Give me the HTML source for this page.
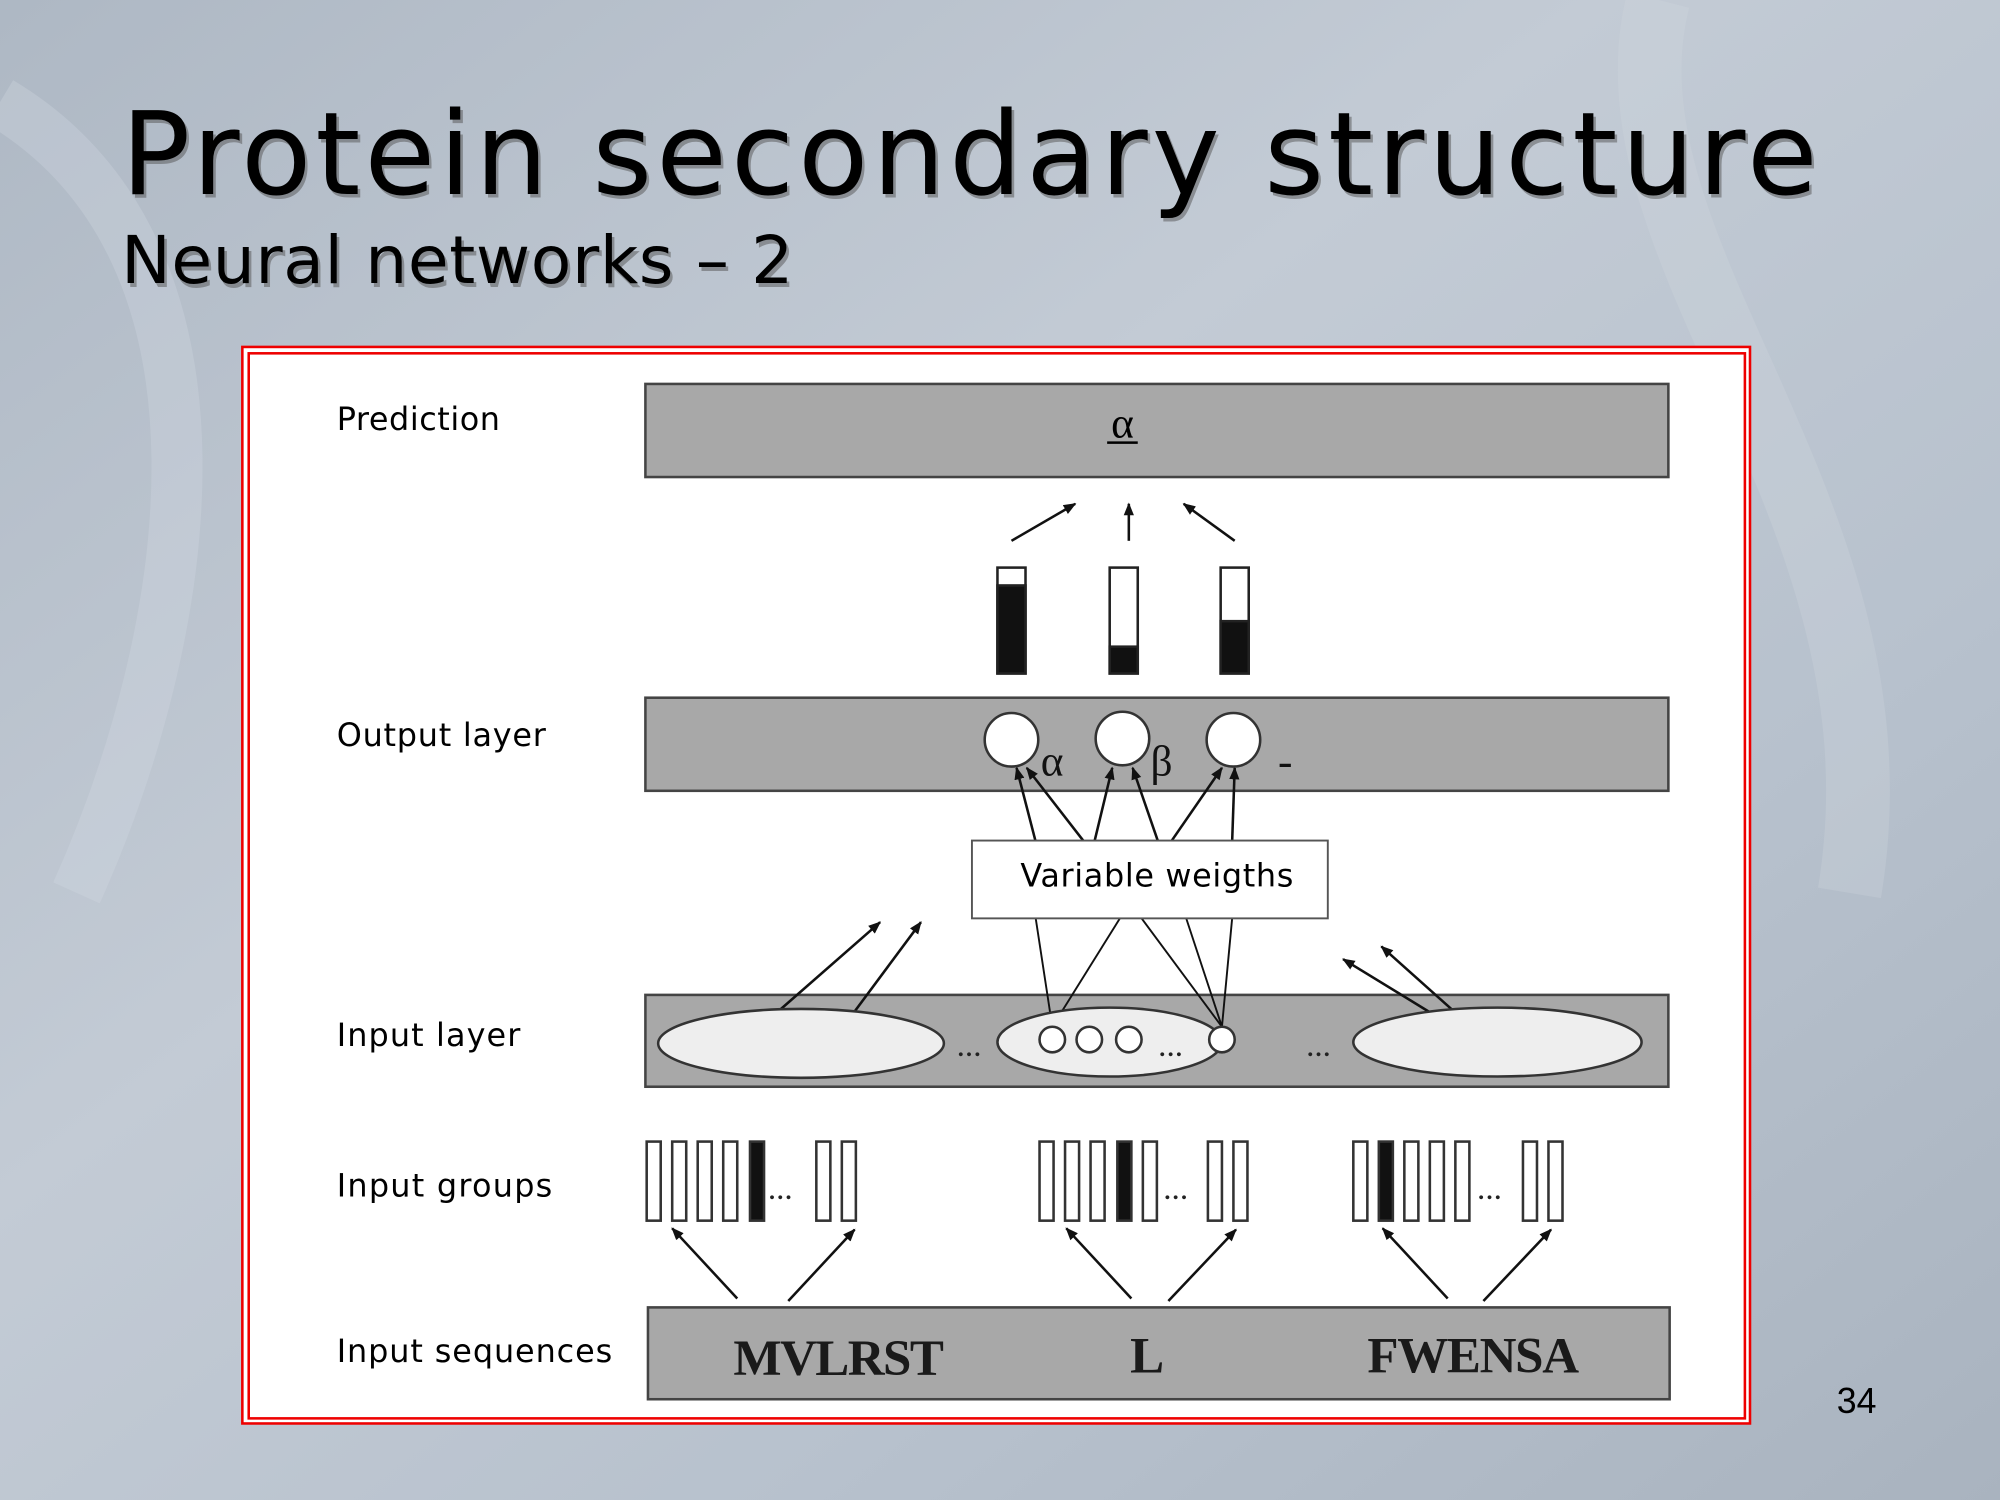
<!DOCTYPE html>
<html><head><meta charset="utf-8"><style>
html,body{margin:0;padding:0;width:2000px;height:1500px;overflow:hidden;}
svg{display:block}
</style></head><body>
<svg width="2000" height="1500" viewBox="0 0 1568 1176" preserveAspectRatio="none" xmlns="http://www.w3.org/2000/svg">
<defs>
<linearGradient id="bg" x1="0" y1="0" x2="1" y2="1">
<stop offset="0" stop-color="#aeb8c4"/><stop offset="0.4" stop-color="#c3cbd5"/><stop offset="0.7" stop-color="#b7c1cd"/><stop offset="1" stop-color="#a9b3bf"/>
</linearGradient>
<marker id="ah" markerWidth="10" markerHeight="10" refX="9" refY="5" orient="auto" markerUnits="userSpaceOnUse"><path d="M0,1 L10,5 L0,9 z" fill="#111"/></marker>
</defs>
<rect width="1568" height="1176" fill="url(#bg)"/>
<path d="M0,80 C200,200 150,500 60,700" stroke="#d5dbe3" stroke-width="40" fill="none" opacity="0.3"/>
<path d="M1300,0 C1250,200 1500,400 1450,700" stroke="#d0d7df" stroke-width="50" fill="none" opacity="0.3"/>
<g font-family="'DejaVu Sans','Liberation Sans',sans-serif">
<text x="97" y="155" font-size="90" fill="#555" opacity="0.5" textLength="1330">Protein secondary structure</text>
<text x="95" y="152" font-size="90" fill="#000" textLength="1330">Protein secondary structure</text>
<text x="97" y="225" font-size="52" fill="#555" opacity="0.5" textLength="527">Neural networks – 2</text>
<text x="95" y="222" font-size="52" fill="#000" textLength="527">Neural networks – 2</text>
<text x="1440" y="1108" font-size="28" font-family="'Liberation Sans',sans-serif" fill="#000">34</text>
</g>
<rect x="190" y="272" width="1182" height="844" fill="#fff" stroke="#e00" stroke-width="2"/>
<rect x="195" y="277" width="1173" height="835" fill="#fff" stroke="#e00" stroke-width="2"/>
<g fill="#a8a8a8" stroke="#444" stroke-width="2">
<rect x="506" y="301" width="802" height="73"/>
<rect x="506" y="547" width="802" height="73"/>
<rect x="506" y="780" width="802" height="72"/>
<rect x="508" y="1025" width="801" height="72"/>
</g>
<text x="880" y="343" font-size="34" font-family="'Liberation Serif',serif" text-anchor="middle">α</text>
<line x1="868" y1="347" x2="892" y2="347" stroke="#000" stroke-width="2"/>
<g stroke="#111" stroke-width="2" fill="none" marker-end="url(#ah)">
<line x1="793" y1="424" x2="843" y2="395"/><line x1="885" y1="424" x2="885" y2="395"/><line x1="968" y1="424" x2="928" y2="395"/>
<line x1="610" y1="793" x2="690" y2="723"/><line x1="670" y1="793" x2="722" y2="723"/>
<line x1="1140" y1="793" x2="1083" y2="742"/><line x1="1120" y1="793" x2="1053" y2="752"/>
<line x1="578" y1="1018" x2="527" y2="963"/><line x1="618" y1="1020" x2="670" y2="964"/>
<line x1="887" y1="1018" x2="836" y2="963"/><line x1="916" y1="1020" x2="969" y2="964"/>
<line x1="1135" y1="1018" x2="1084" y2="963"/><line x1="1163" y1="1020" x2="1216" y2="964"/>
<line x1="812" y1="660" x2="797" y2="602"/><line x1="850" y1="660" x2="805" y2="602"/>
<line x1="858" y1="660" x2="872" y2="602"/><line x1="908" y1="660" x2="888" y2="602"/>
<line x1="918" y1="660" x2="958" y2="602"/><line x1="966" y1="660" x2="968" y2="602"/>
</g>
<g stroke="#111" stroke-width="1.5" fill="none">
<line x1="825" y1="805" x2="812" y2="720"/><line x1="825" y1="805" x2="878" y2="720"/>
<line x1="958" y1="805" x2="895" y2="720"/><line x1="958" y1="805" x2="930" y2="720"/><line x1="958" y1="805" x2="966" y2="720"/>
</g>
<g stroke="#222" stroke-width="2">
<rect x="782" y="445" width="22" height="83" fill="#fff"/><rect x="782" y="459" width="22" height="69" fill="#111"/>
<rect x="870" y="445" width="22" height="83" fill="#fff"/><rect x="870" y="507" width="22" height="21" fill="#111"/>
<rect x="957" y="445" width="22" height="83" fill="#fff"/><rect x="957" y="487" width="22" height="41" fill="#111"/>
</g>
<g fill="#fff" stroke="#333" stroke-width="2">
<circle cx="793" cy="580" r="21"/><circle cx="880" cy="579" r="21"/><circle cx="967" cy="580" r="21"/>
</g>
<g font-family="'Liberation Serif',serif" font-size="34" fill="#111">
<text x="816" y="608">α</text><text x="902" y="608">β</text><text x="1002" y="608">-</text>
</g>
<rect x="762" y="659" width="279" height="61" fill="#fff" stroke="#555" stroke-width="1.5"/>
<text x="800" y="695" font-size="25" font-family="'DejaVu Sans',sans-serif" textLength="214">Variable weigths</text>
<g fill="#eee" stroke="#333" stroke-width="2">
<ellipse cx="628" cy="818" rx="112" ry="27"/><ellipse cx="870" cy="817" rx="88" ry="27"/><ellipse cx="1174" cy="817" rx="113" ry="27"/>
</g>
<g fill="#fff" stroke="#333" stroke-width="2">
<circle cx="825" cy="815" r="10"/><circle cx="854" cy="815" r="10"/><circle cx="885" cy="815" r="10"/><circle cx="958" cy="815" r="10"/>
</g>
<g font-size="26" font-family="'Liberation Serif',serif" fill="#222">
<text x="750" y="828">...</text><text x="908" y="828">...</text><text x="1024" y="828">...</text>
<text x="602" y="940">...</text><text x="912" y="940">...</text><text x="1158" y="940">...</text>
</g>
<g stroke="#333" stroke-width="2" fill="#fff">
<rect x="507" y="895" width="11" height="62"/><rect x="527" y="895" width="11" height="62"/><rect x="547" y="895" width="11" height="62"/><rect x="567" y="895" width="11" height="62"/><rect x="588" y="895" width="11" height="62" fill="#111"/><rect x="640" y="895" width="11" height="62"/><rect x="660" y="895" width="11" height="62"/>
<rect x="815" y="895" width="11" height="62"/><rect x="835" y="895" width="11" height="62"/><rect x="855" y="895" width="11" height="62"/><rect x="876" y="895" width="11" height="62" fill="#111"/><rect x="896" y="895" width="11" height="62"/><rect x="947" y="895" width="11" height="62"/><rect x="967" y="895" width="11" height="62"/>
<rect x="1061" y="895" width="11" height="62"/><rect x="1081" y="895" width="11" height="62" fill="#111"/><rect x="1101" y="895" width="11" height="62"/><rect x="1121" y="895" width="11" height="62"/><rect x="1141" y="895" width="11" height="62"/><rect x="1194" y="895" width="11" height="62"/><rect x="1214" y="895" width="11" height="62"/>
</g>
<g font-family="'Liberation Serif',serif" font-weight="bold" font-size="40" fill="#1a1a1a">
<text x="575" y="1078" textLength="165">MVLRST</text>
<text x="886" y="1076">L</text>
<text x="1072" y="1076" textLength="166">FWENSA</text>
</g>
<g font-family="'DejaVu Sans',sans-serif" font-size="25" fill="#000">
<text x="264" y="337" textLength="128">Prediction</text>
<text x="264" y="585" textLength="164">Output layer</text>
<text x="264" y="820" textLength="144">Input layer</text>
<text x="264" y="938" textLength="169">Input groups</text>
<text x="264" y="1068" textLength="216">Input sequences</text>
</g>
</svg>
</body></html>
